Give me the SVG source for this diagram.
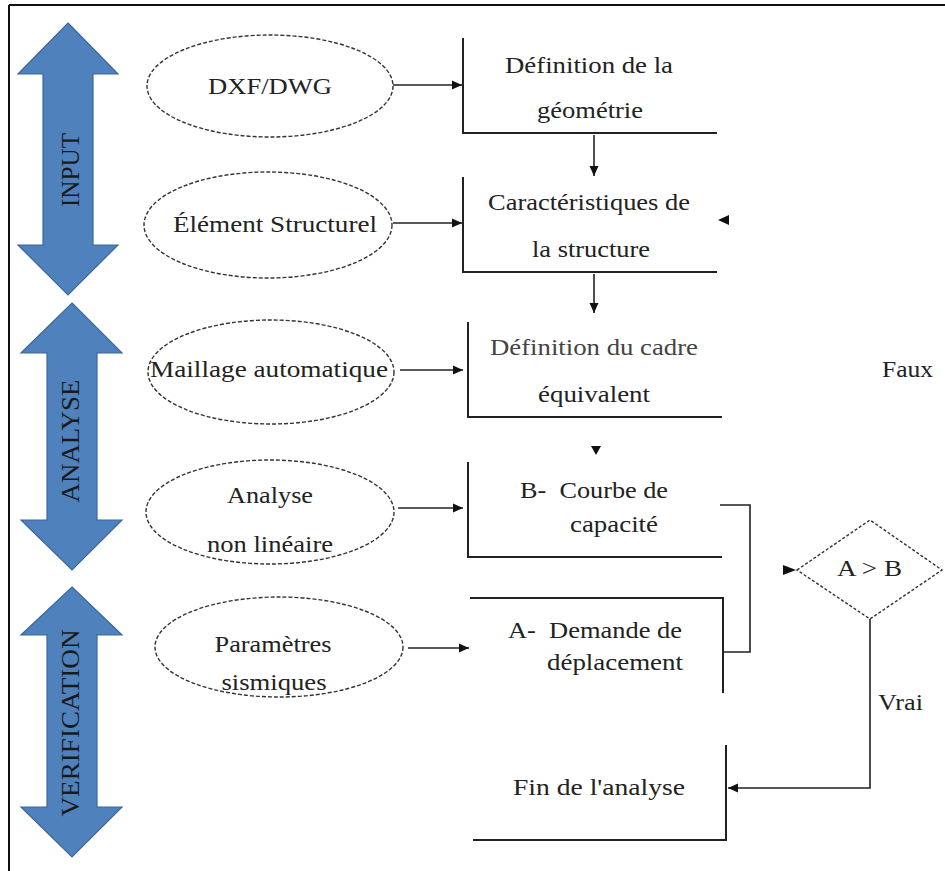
<svg xmlns="http://www.w3.org/2000/svg" width="945" height="871" viewBox="0 0 945 871">
<style>
.t{font-family:'Liberation Serif','Times New Roman',serif;font-size:24px;fill:#222;}
.m{text-anchor:middle;}
.ell{fill:#fff;stroke:#333;stroke-width:1.4;stroke-dasharray:4 2;}
.box{fill:none;stroke:#222;stroke-width:2;}
.con{fill:none;stroke:#222;stroke-width:1.6;}
.bar{fill:#4F81BD;stroke:#3A679C;stroke-width:1.2;}
.lab{font-family:'Liberation Serif','Times New Roman',serif;font-size:25px;fill:#1a1a1a;text-anchor:middle;}
</style>
<defs>
<marker id="ah" markerUnits="userSpaceOnUse" markerWidth="11" markerHeight="10" refX="10" refY="5" orient="auto">
<path d="M0,0.5 L10,5 L0,9.5 z" fill="#111"/>
</marker>
</defs>
<rect width="945" height="871" fill="#fff"/>
<g id="frame">
<line x1="9" y1="5" x2="945" y2="5" stroke="#111" stroke-width="2"/>
<line x1="9" y1="5" x2="9" y2="871" stroke="#111" stroke-width="2"/>
</g>
<g id="input-arrow">
<path class="bar" d="M68,23 L118,74 L93,74 L93,245 L118,245 L68,295 L18,245 L43,245 L43,74 L18,74 Z"/>
<text class="lab" transform="translate(79,170) rotate(-90)" textLength="74" lengthAdjust="spacingAndGlyphs">INPUT</text>
</g>
<g id="analyse-arrow">
<path class="bar" d="M72,303 L122,353 L97,353 L97,520 L122,520 L72,570 L21,520 L47,520 L47,353 L21,353 Z"/>
<text class="lab" transform="translate(79,441) rotate(-90)" textLength="123" lengthAdjust="spacingAndGlyphs">ANALYSE</text>
</g>
<g id="verification-arrow">
<path class="bar" d="M72,587 L122,635 L97,635 L97,807 L122,807 L72,857 L21,807 L47,807 L47,635 L21,635 Z"/>
<text class="lab" transform="translate(79,723) rotate(-90)" textLength="187" lengthAdjust="spacingAndGlyphs">VERIFICATION</text>
</g>
<g id="dxf">
<ellipse class="ell" cx="270" cy="86" rx="123" ry="51"/>
<text class="t m" x="270" y="94" textLength="124" lengthAdjust="spacingAndGlyphs">DXF/DWG</text>
</g>
<g id="element">
<ellipse class="ell" cx="268" cy="225" rx="124" ry="53"/>
<text class="t m" x="275" y="232" textLength="204" lengthAdjust="spacingAndGlyphs">Élément Structurel</text>
</g>
<g id="maillage">
<ellipse class="ell" cx="271" cy="372" rx="123" ry="52"/>
<text class="t m" x="269" y="377" textLength="238" lengthAdjust="spacingAndGlyphs">Maillage automatique</text>
</g>
<g id="analyse">
<ellipse class="ell" cx="270" cy="512" rx="124" ry="52"/>
<text class="t m" x="270" y="503" textLength="86" lengthAdjust="spacingAndGlyphs">Analyse</text>
<text class="t m" x="270" y="552" textLength="126" lengthAdjust="spacingAndGlyphs">non linéaire</text>
</g>
<g id="parametres">
<ellipse class="ell" cx="279" cy="647" rx="124" ry="50"/>
<text class="t m" x="273" y="652" textLength="117" lengthAdjust="spacingAndGlyphs">Paramètres</text>
<text class="t m" x="274" y="690" textLength="105" lengthAdjust="spacingAndGlyphs">sismiques</text>
</g>
<g id="box-geometrie">
<path class="box" d="M463,38 L463,133 L717,133"/>
<text class="t m" x="589" y="73" textLength="168" lengthAdjust="spacingAndGlyphs">Définition de la</text>
<text class="t m" x="590" y="118" textLength="106" lengthAdjust="spacingAndGlyphs">géométrie</text>
</g>
<g id="box-caracteristiques">
<path class="box" d="M463,177 L463,272 L717,272"/>
<text class="t m" x="589" y="210" textLength="202" lengthAdjust="spacingAndGlyphs">Caractéristiques de</text>
<text class="t m" x="591" y="257" textLength="118" lengthAdjust="spacingAndGlyphs">la structure</text>
</g>
<g id="box-cadre">
<path class="box" d="M468,322 L468,417 L722,417"/>
<text class="t m" x="594" y="355" textLength="208" lengthAdjust="spacingAndGlyphs" style="fill:#444">Définition du cadre</text>
<text class="t m" x="594" y="402" textLength="112" lengthAdjust="spacingAndGlyphs">équivalent</text>
</g>
<g id="box-courbe">
<path class="box" d="M468,462 L468,557 L722,557"/>
<text class="t" x="520" y="498" textLength="148" lengthAdjust="spacingAndGlyphs" xml:space="preserve">B-  Courbe de</text>
<text class="t" x="570" y="532" textLength="88" lengthAdjust="spacingAndGlyphs">capacité</text>
</g>
<g id="box-demande">
<path class="box" d="M470,598 L723,598 L723,693"/>
<text class="t" x="508" y="638" textLength="174" lengthAdjust="spacingAndGlyphs" xml:space="preserve">A-  Demande de</text>
<text class="t" x="547" y="670" textLength="136" lengthAdjust="spacingAndGlyphs">déplacement</text>
</g>
<g id="box-fin">
<path class="box" d="M726,745 L726,840 L473,840"/>
<text class="t" x="513" y="795" textLength="172" lengthAdjust="spacingAndGlyphs">Fin de l'analyse</text>
</g>
<g id="decision">
<path d="M797,570 L870,520 L942,570 L870,619 Z" fill="#fff" stroke="#333" stroke-width="1.4" stroke-dasharray="3 2"/>
<text class="t" x="837" y="576" textLength="65" lengthAdjust="spacingAndGlyphs">A &gt; B</text>
</g>
<g id="connectors">
<line class="con" x1="393" y1="85" x2="462" y2="85" marker-end="url(#ah)"/>
<line class="con" x1="393" y1="223" x2="462" y2="223" marker-end="url(#ah)"/>
<line class="con" x1="400" y1="370" x2="463" y2="370" marker-end="url(#ah)"/>
<line class="con" x1="398" y1="508" x2="463" y2="508" marker-end="url(#ah)" stroke="#555"/>
<line class="con" x1="408" y1="648" x2="469" y2="648" marker-end="url(#ah)" stroke="#555"/>
<line class="con" x1="594" y1="135" x2="594" y2="176" marker-end="url(#ah)"/>
<line class="con" x1="594" y1="274" x2="594" y2="313" marker-end="url(#ah)"/>
<path d="M591,446 L601,446 L596,455 Z" fill="#111"/>
<path d="M729,215 L729,225 L718,220 Z" fill="#111"/>
<path d="M783,565 L783,575 L796,570 Z" fill="#111"/>
<path class="con" d="M720,505 L750,505 L750,652 L723,652"/>
<path class="con" d="M870,619 L870,788 L728,788" marker-end="url(#ah)"/>
<text class="t" x="878" y="710" textLength="45" lengthAdjust="spacingAndGlyphs">Vrai</text>
<text class="t" x="882" y="377" textLength="51" lengthAdjust="spacingAndGlyphs">Faux</text>
</g>
</svg>
